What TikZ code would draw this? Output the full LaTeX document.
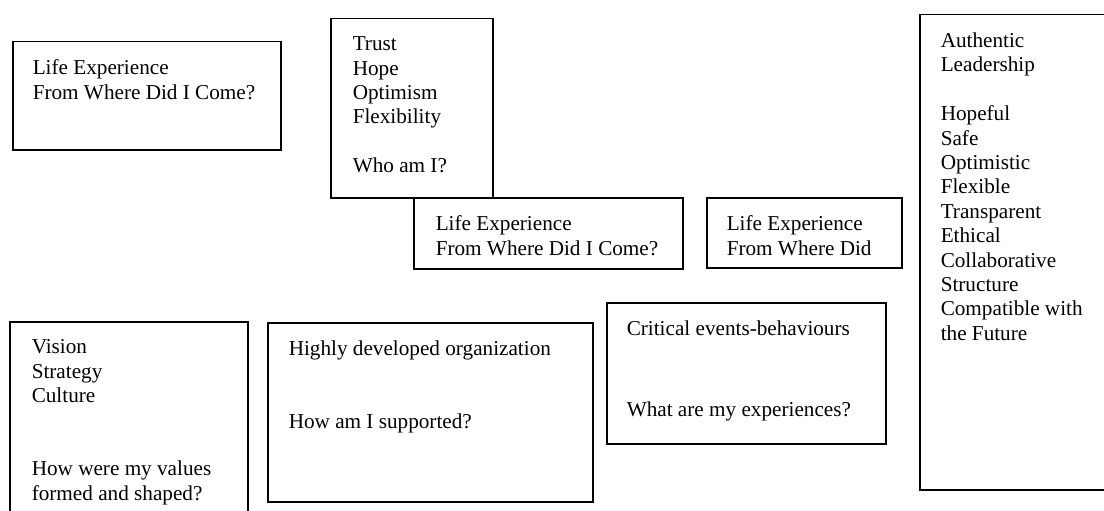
\documentclass[tikz,border=0pt]{standalone}
\usepackage{fontspec}
\setmainfont{Liberation Serif}
\usetikzlibrary{positioning}

\begin{document}
\begin{tikzpicture}[x=1pt, y=-1pt, line width=1.5pt,
    frame/.style={draw, inner sep=0pt, anchor=north west},
    words/.style={inner sep=0pt, align=left, font=\fontsize{21.2pt}{24.4pt}\selectfont}]
    \useasboundingbox (0,0) rectangle (1104,511);
    \clip (0,0) rectangle (1104,511);
    % upper row
    \node[frame, minimum width=268pt, minimum height=108pt] (past) at (12,41) {};
    \node[words, below right=18pt and 20pt of past.north west] (pastT)
        {Life Experience\\From Where Did I Come?};
    \node[frame, minimum width=162pt, minimum height=179pt] (self) at (330,18) {};
    \node[words, below right=18pt and 22pt of self.north west] (selfT)
        {Trust\\Hope\\Optimism\\Flexibility\\[24.4pt]Who am I?};
    \node[frame, minimum width=269pt, minimum height=71pt] (pastB) at (413,197) {};
    \node[words, below right=18pt and 22pt of pastB.north west] (pastBT)
        {Life Experience\\From Where Did I Come?};
    \node[frame, minimum width=195pt, minimum height=70pt] (pastC) at (706,197) {};
    \node[words, below right=18pt and 20pt of pastC.north west] (pastCT)
        {Life Experience\\From Where Did};
    % tall box on the right, runs past the edge
    \node[frame, minimum width=200pt, minimum height=475pt] (leader) at (919,14) {};
    \node[words, below right=18pt and 21pt of leader.north west] (leaderT)
        {Authentic\\Leadership\\[24.4pt]Hopeful\\Safe\\Optimistic\\Flexible\\Transparent\\
         Ethical\\Collaborative\\Structure\\Compatible with\\the Future};
    % lower row
    \node[frame, minimum width=238pt, minimum height=210pt] (vision) at (9,321) {};
    \node[words, below right=18pt and 22pt of vision.north west] (visionT)
        {Vision\\Strategy\\Culture\\[48.8pt]How were my values\\formed and shaped?};
    \node[frame, minimum width=325pt, minimum height=179pt] (org) at (267,322) {};
    \node[words, below right=18pt and 21pt of org.north west] (orgT)
        {Highly developed organization\\[48.8pt]How am I supported?};
    \node[frame, minimum width=279pt, minimum height=141pt] (events) at (606,302) {};
    \node[words, below right=18pt and 20pt of events.north west] (eventsT)
        {Critical events-behaviours\\[57pt]What are my experiences?};
\end{tikzpicture}
\end{document}
